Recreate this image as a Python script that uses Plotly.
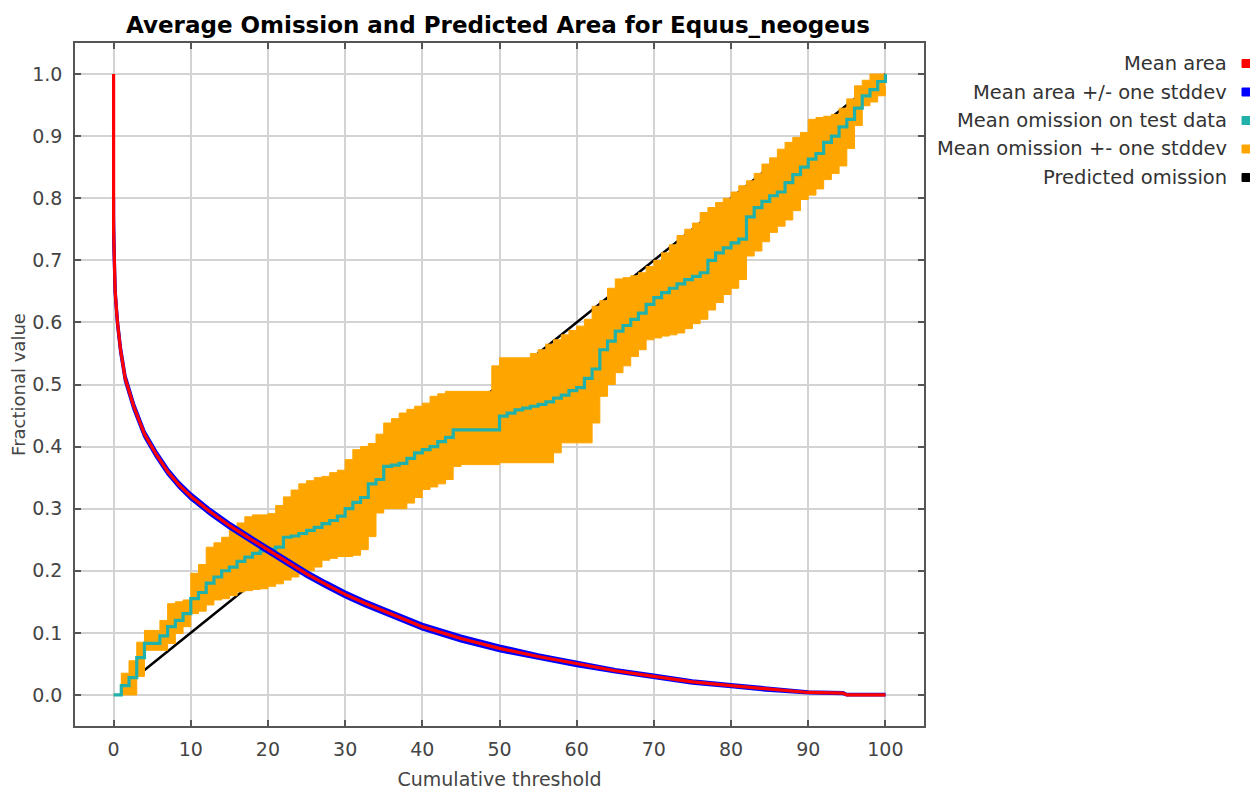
import plotly.graph_objects as go

# ---------------- data ----------------
threshold = list(range(0, 101))

omission_mean = [
    0.000, 0.015, 0.028, 0.060, 0.083, 0.083, 0.095, 0.110, 0.120, 0.131,
    0.155, 0.165, 0.180, 0.190, 0.200, 0.206, 0.215, 0.222, 0.228, 0.232,
    0.235, 0.238, 0.254, 0.256, 0.260, 0.265, 0.270, 0.276, 0.281, 0.288,
    0.300, 0.310, 0.318, 0.340, 0.347, 0.368, 0.370, 0.373, 0.381, 0.390,
    0.395, 0.400, 0.408, 0.415, 0.427, 0.427, 0.427, 0.427, 0.427, 0.427,
    0.449, 0.454, 0.459, 0.462, 0.465, 0.468, 0.472, 0.478, 0.483, 0.490,
    0.495, 0.510, 0.525, 0.556, 0.570, 0.586, 0.595, 0.605, 0.615, 0.629,
    0.640, 0.648, 0.655, 0.662, 0.669, 0.674, 0.680, 0.700, 0.712, 0.720,
    0.728, 0.734, 0.770, 0.785, 0.795, 0.804, 0.810, 0.825, 0.838, 0.850,
    0.863, 0.872, 0.890, 0.900, 0.915, 0.927, 0.945, 0.965, 0.975, 0.988,
    1.000]

omission_upper = [
    0.000, 0.035, 0.055, 0.085, 0.104, 0.104, 0.120, 0.147, 0.150, 0.153,
    0.196, 0.210, 0.238, 0.245, 0.254, 0.265, 0.277, 0.287, 0.290, 0.290,
    0.292, 0.305, 0.319, 0.330, 0.340, 0.345, 0.350, 0.352, 0.358, 0.362,
    0.379, 0.395, 0.400, 0.405, 0.420, 0.438, 0.445, 0.454, 0.460, 0.465,
    0.470, 0.481, 0.485, 0.489, 0.489, 0.489, 0.489, 0.489, 0.489, 0.530,
    0.543, 0.543, 0.543, 0.543, 0.550, 0.556, 0.565, 0.572, 0.580, 0.587,
    0.594, 0.605, 0.626, 0.635, 0.655, 0.670, 0.672, 0.675, 0.680, 0.690,
    0.700, 0.712, 0.725, 0.740, 0.750, 0.760, 0.777, 0.785, 0.793, 0.800,
    0.810, 0.820, 0.828, 0.840, 0.855, 0.865, 0.879, 0.890, 0.898, 0.906,
    0.927, 0.930, 0.932, 0.935, 0.945, 0.960, 0.981, 0.990, 1.000, 1.000,
    1.000]

omission_lower = [
    0.000, 0.000, 0.000, 0.030, 0.072, 0.072, 0.072, 0.083, 0.099, 0.110,
    0.131, 0.135, 0.145, 0.153, 0.155, 0.160, 0.166, 0.168, 0.170, 0.171,
    0.175, 0.179, 0.185, 0.190, 0.195, 0.200, 0.206, 0.217, 0.220, 0.223,
    0.223, 0.225, 0.234, 0.255, 0.293, 0.300, 0.300, 0.300, 0.309, 0.318,
    0.331, 0.335, 0.340, 0.347, 0.368, 0.371, 0.371, 0.371, 0.371, 0.371,
    0.374, 0.374, 0.374, 0.374, 0.374, 0.374, 0.374, 0.390, 0.406, 0.406,
    0.406, 0.406, 0.438, 0.481, 0.500, 0.519, 0.530, 0.545, 0.556, 0.572,
    0.575, 0.578, 0.580, 0.583, 0.590, 0.598, 0.605, 0.620, 0.632, 0.645,
    0.655, 0.669, 0.707, 0.715, 0.730, 0.745, 0.755, 0.765, 0.780, 0.798,
    0.805, 0.815, 0.830, 0.840, 0.852, 0.880, 0.917, 0.949, 0.955, 0.965,
    0.980]

area_x = [0, 0, 0.2, 0.5, 0.9, 1.5, 2.6, 4, 5.5, 7, 8.5, 10, 12.5, 15, 17.5,
          20, 22.5, 25, 27.5, 30, 32.5, 35, 37.5, 40, 45, 50, 55, 60, 65, 70,
          75, 80, 85, 90, 94.5, 95, 100]
area_mean = [1.0, 0.75, 0.65, 0.60, 0.556, 0.51, 0.465, 0.42, 0.388, 0.36,
             0.338, 0.32, 0.295, 0.273, 0.253, 0.234, 0.214, 0.195, 0.178, 0.162,
             0.148, 0.135, 0.122, 0.11, 0.091, 0.075, 0.062, 0.05, 0.039, 0.03,
             0.021, 0.015, 0.009, 0.004, 0.003, 0.0, 0.0]
area_upper = [0.80, 0.77, 0.654, 0.604, 0.560, 0.514, 0.469, 0.424, 0.392, 0.364,
              0.342, 0.324, 0.299, 0.277, 0.257, 0.238, 0.218, 0.199, 0.182, 0.166,
              0.152, 0.139, 0.126, 0.114, 0.095, 0.079, 0.065, 0.053, 0.041, 0.032,
              0.023, 0.017, 0.011, 0.005, 0.004, 0.001, 0.001]
area_lower = [0.80, 0.73, 0.646, 0.596, 0.552, 0.506, 0.461, 0.416, 0.384, 0.356,
              0.334, 0.316, 0.291, 0.269, 0.249, 0.230, 0.210, 0.191, 0.174, 0.158,
              0.144, 0.131, 0.118, 0.106, 0.087, 0.071, 0.059, 0.047, 0.037, 0.028,
              0.019, 0.013, 0.007, 0.003, 0.002, 0.0, 0.0]

predicted_x = [3, 100]
predicted_y = [0.03, 1.0]

x_ticks = [0, 10, 20, 30, 40, 50, 60, 70, 80, 90, 100]
y_ticks = [0.0, 0.1, 0.2, 0.3, 0.4, 0.5, 0.6, 0.7, 0.8, 0.9, 1.0]

legend_labels = ["Mean area", "Mean area +/- one stddev", "Mean omission on test data",
                 "Mean omission +- one stddev", "Predicted omission"]

# ---------------- styles ----------------
RED = "#FF0000"
BLUE = "#0000FF"
TEAL = "#20B2AA"
ORANGE = "#FFA500"
BLACK = "#000000"
legend_colors = [RED, BLUE, TEAL, ORANGE, BLACK]
FONT = "DejaVu Sans"
TXT = "#444444"

fig = go.Figure()

fig.add_trace(go.Scatter(x=predicted_x, y=predicted_y, mode="lines",
                         line=dict(color=BLACK, width=2.5), showlegend=False))
fig.add_trace(go.Scatter(x=threshold, y=omission_lower, mode="lines",
                         line=dict(color=ORANGE, width=1, shape="hv"), showlegend=False))
fig.add_trace(go.Scatter(x=threshold, y=omission_upper, mode="lines", fill="tonexty",
                         fillcolor=ORANGE,
                         line=dict(color=ORANGE, width=1, shape="hv"), showlegend=False))
fig.add_trace(go.Scatter(x=threshold, y=omission_mean, mode="lines",
                         line=dict(color=TEAL, width=3.2, shape="hv"), showlegend=False))
fig.add_trace(go.Scatter(x=area_x, y=area_upper, mode="lines",
                         line=dict(color=BLUE, width=3), showlegend=False))
fig.add_trace(go.Scatter(x=area_x, y=area_lower, mode="lines",
                         line=dict(color=BLUE, width=3), showlegend=False))
fig.add_trace(go.Scatter(x=area_x, y=area_mean, mode="lines",
                         line=dict(color=RED, width=3.2), showlegend=False))

# the page body adds an 8px offset; positions below are target pixels minus 8
OFF = 8
W, H = 1258 - OFF, 791 - OFF
L, R, T, B = 75 - OFF, 924 - OFF, 43 - OFF, 726 - OFF
pw, ph = R - L, B - T

annotations = []
shapes = []
for i, (lab, col) in enumerate(zip(legend_labels, legend_colors)):
    ypix = 63.5 - OFF + 28.5 * i
    yp = (B - ypix) / ph
    annotations.append(dict(text=lab, xref="paper", yref="paper",
                            x=(1229 - OFF - L) / pw, y=yp, xanchor="right", yanchor="middle",
                            showarrow=False,
                            font=dict(family=FONT, size=19.5, color="#333333")))
    shapes.append(dict(type="rect", xref="paper", yref="paper", layer="above",
                       x0=(1242 - OFF - L) / pw, x1=(1250 - OFF - L) / pw,
                       y0=(B - ypix - 4) / ph, y1=(B - ypix + 4) / ph,
                       fillcolor=col, line=dict(color=col, width=1)))

fig.update_layout(
    width=W, height=H,
    margin=dict(l=L, r=W - R, t=T, b=H - B, pad=0, autoexpand=False),
    paper_bgcolor="white", plot_bgcolor="white",
    showlegend=False,
    title=dict(text="<b>Average Omission and Predicted Area for Equus_neogeus</b>",
               x=(498 - OFF) / W, xanchor="center", y=1 - (25 - OFF) / H, yanchor="middle",
               font=dict(family=FONT, size=23, color="#000000")),
    annotations=annotations,
    shapes=shapes,
    xaxis=dict(range=[-5, 105], tickvals=x_ticks, ticktext=[str(v) for v in x_ticks],
               automargin=False,
               showgrid=True, gridcolor="#D3D3D3", gridwidth=1.5, zeroline=False,
               showline=True, linecolor="#555555", linewidth=1.5, mirror="ticks",
               ticks="inside", ticklen=6, tickcolor="#555555", tickwidth=1.5,
               ticklabelstandoff=5,
               tickfont=dict(family=FONT, size=19, color=TXT),
               title=dict(text="Cumulative threshold", standoff=14,
                          font=dict(family=FONT, size=19, color=TXT))),
    yaxis=dict(range=[-0.05, 1.05], tickvals=y_ticks, ticktext=[f"{v:.1f}" for v in y_ticks],
               automargin=False,
               showgrid=True, gridcolor="#D3D3D3", gridwidth=1.5, zeroline=False,
               showline=True, linecolor="#555555", linewidth=1.5, mirror="ticks",
               ticks="inside", ticklen=6, tickcolor="#555555", tickwidth=1.5,
               ticklabelstandoff=7,
               tickfont=dict(family=FONT, size=19, color=TXT),
               title=dict(text="Fractional value", standoff=10,
                          font=dict(family=FONT, size=18, color=TXT))),
)

fig.write_html("out.html")
